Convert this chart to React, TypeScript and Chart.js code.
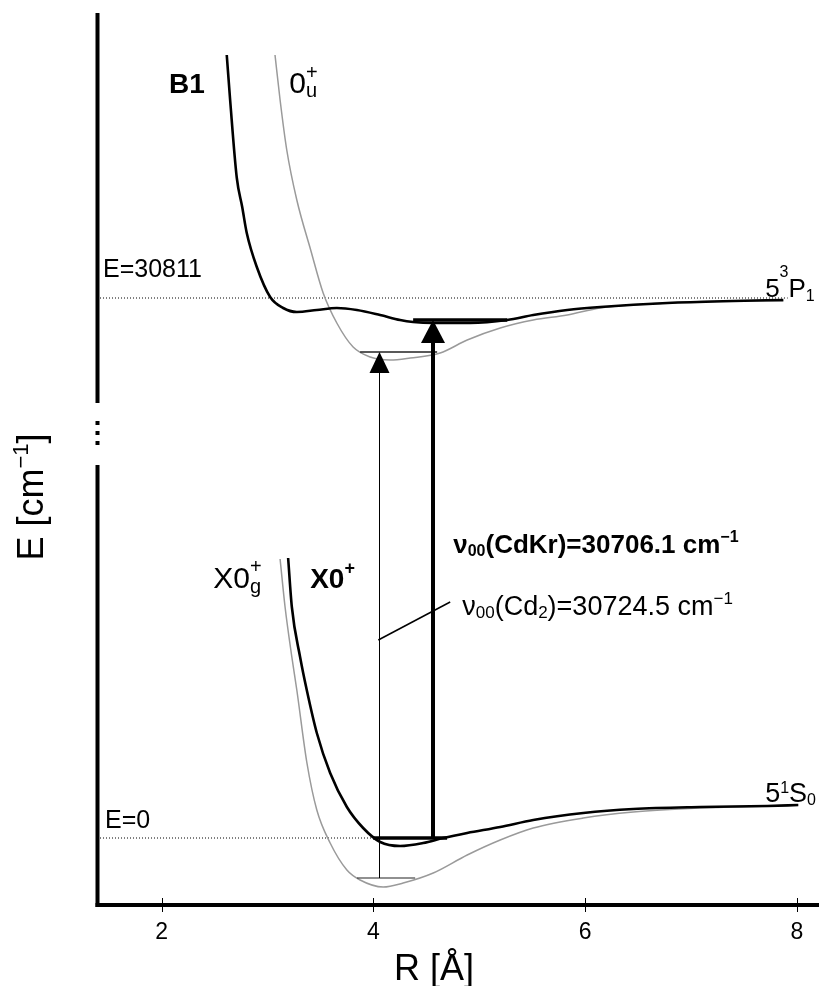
import React, { useEffect, useRef } from "react";
import { Chart, registerables } from "chart.js";

Chart.register(...registerables);

// ---- axes ----
const R_MIN = 1.388;
const R_MAX = 8.21;
const E_MIN = 0;
const E_MAX = 892; // display units (broken energy axis)
const xTicks = [2, 4, 6, 8];
const xTickLabels = ["2", "4", "6", "8"];
const yAxisUpper = [892, 502];
const yAxisDots = [482, 472, 462];
const yAxisLower = [440, 0];

// ---- potential curves (R in Å, E in display units) ----
const b1R = [2.614, 2.646, 2.709, 2.76, 2.803, 2.898, 3.024, 3.147, 3.276, 3.465, 3.654, 3.843, 4.063, 4.252, 4.375, 4.565, 4.914, 5.264, 5.51, 5.831, 6.144, 6.777, 7.401, 7.873];
const b1E = [850, 805, 727, 698, 672, 638, 608, 597, 593, 595, 597, 595, 590, 585, 583, 582, 582, 585, 590, 595, 598, 602, 604, 605];

const u0R = [3.07, 3.118, 3.181, 3.276, 3.407, 3.525, 3.654, 3.808, 3.969, 4.158, 4.347, 4.63, 4.886, 5.198, 5.51, 5.831, 6.144, 6.777, 7.401, 7.873];
const u0E = [850, 805, 755, 705, 655, 612, 582, 558, 548, 545, 547, 552, 565, 577, 585, 590, 597, 602, 604, 604];

const x0R = [3.194, 3.229, 3.307, 3.37, 3.465, 3.591, 3.749, 3.903, 4.064, 4.252, 4.47, 4.659, 4.886, 5.198, 5.51, 5.983, 6.455, 7.088, 7.721, 8.014];
const x0E = [347, 298, 248, 215, 172, 132, 98, 77, 63, 59, 62, 67, 72, 78, 85, 92, 96, 98, 99, 100];

const x0gR = [3.118, 3.165, 3.229, 3.276, 3.37, 3.465, 3.591, 3.749, 3.874, 4.092, 4.281, 4.565, 4.886, 5.198, 5.51, 5.983, 6.455, 7.088, 7.721, 8.014];
const x0gE = [346, 298, 248, 215, 143, 95, 62, 35, 25, 18, 22, 32, 50, 65, 77, 87, 93, 97, 99, 100];

// ---- vibrational v=0 levels ----
const b1LevelR = [4.375, 5.264];
const b1LevelE = 585;
const u0LevelR = [3.874, 4.602];
const u0LevelE = 553;
const x0LevelR = [3.997, 4.696];
const x0LevelE = 67;
const x0gLevelR = [3.845, 4.394];
const x0gLevelE = 27;

// ---- reference energies (dotted) ----
const upperRefR = [R_MIN, 7.914];
const upperRefE = 607;
const lowerRefR = [R_MIN, 3.997];
const lowerRefE = 67;

// ---- transitions ----
const cd2ArrowR = 4.054;
const cdkrArrowR = 4.565;
const leaderR = [4.046, 4.725];
const leaderE = [265, 303];

const FONT = '"Liberation Sans", Arial, Helvetica, sans-serif';
const font = (bold: boolean, size: number) => `${bold ? "bold " : ""}${size}px ${FONT}`;

type Piece = { t: string; sub?: string; sup?: string };
type RichOpts = { size: number; small: number; bold: boolean; supDy: number; subDy: number; align?: "left" | "center" };

function richWidth(ctx: CanvasRenderingContext2D, pieces: Piece[], o: RichOpts) {
  let w = 0;
  for (const p of pieces) {
    ctx.font = font(o.bold, o.size);
    w += ctx.measureText(p.t).width;
    ctx.font = font(o.bold, o.small);
    let s = 0;
    if (p.sup) s = Math.max(s, ctx.measureText(p.sup).width);
    if (p.sub) s = Math.max(s, ctx.measureText(p.sub).width);
    w += s;
  }
  return w;
}

function drawRich(ctx: CanvasRenderingContext2D, pieces: Piece[], x: number, y: number, o: RichOpts) {
  ctx.textAlign = "left";
  ctx.textBaseline = "alphabetic";
  ctx.fillStyle = "#000";
  let cx = x;
  if (o.align === "center") cx = x - richWidth(ctx, pieces, o) / 2;
  for (const p of pieces) {
    ctx.font = font(o.bold, o.size);
    ctx.fillText(p.t, cx, y);
    cx += ctx.measureText(p.t).width;
    if (p.sub || p.sup) {
      ctx.font = font(o.bold, o.small);
      let w = 0;
      if (p.sup) {
        ctx.fillText(p.sup, cx, y - o.supDy);
        w = Math.max(w, ctx.measureText(p.sup).width);
      }
      if (p.sub) {
        ctx.fillText(p.sub, cx, y + o.subDy);
        w = Math.max(w, ctx.measureText(p.sub).width);
      }
      cx += w;
    }
  }
}

const pts = (rs: number[], es: number[]) => rs.map((r, i) => ({ x: r, y: es[i] }));
const hline = (rs: number[], e: number) => rs.map((r) => ({ x: r, y: e }));

const decorPlugin = {
  id: "decor",
  afterDatasetsDraw(chart: any) {
    const ctx: CanvasRenderingContext2D = chart.ctx;
    const xs = chart.scales.x;
    const ys = chart.scales.y;
    const X = (v: number) => xs.getPixelForValue(v);
    const Y = (v: number) => ys.getPixelForValue(v);
    ctx.save();

    // left (broken) axis
    const ax = X(R_MIN) + 0.5;
    ctx.strokeStyle = "#000";
    ctx.lineWidth = 4;
    ctx.lineCap = "butt";
    ctx.beginPath();
    ctx.moveTo(ax, Y(yAxisUpper[0]));
    ctx.lineTo(ax, Y(yAxisUpper[1]));
    ctx.moveTo(ax, Y(yAxisLower[0]));
    ctx.lineTo(ax, Y(yAxisLower[1]) + 2);
    ctx.stroke();
    ctx.fillStyle = "#000";
    for (const d of yAxisDots) ctx.fillRect(ax - 2, Y(d) - 2, 4, 4);

    // bottom axis
    const by = Y(0);
    ctx.beginPath();
    ctx.moveTo(ax - 2, by);
    ctx.lineTo(X(R_MAX), by);
    ctx.stroke();
    ctx.lineWidth = 1;
    ctx.beginPath();
    for (const t of xTicks) {
      const tx = Math.round(X(t)) + 0.5;
      ctx.moveTo(tx, by - 7);
      ctx.lineTo(tx, by + 7);
    }
    ctx.stroke();
    ctx.font = font(false, 23);
    ctx.textAlign = "center";
    ctx.textBaseline = "alphabetic";
    xTicks.forEach((t, i) => ctx.fillText(xTickLabels[i], X(t), by + 34));

    // axis titles
    drawRich(ctx, [{ t: "R [Å]" }], X(4.573), by + 75, { size: 36, small: 22, bold: false, supDy: 0, subDy: 0, align: "center" });
    ctx.save();
    ctx.translate(43, Y(408));
    ctx.rotate(-Math.PI / 2);
    drawRich(ctx, [{ t: "E [cm", sup: "−1" }, { t: "]" }], 0, 0, { size: 36, small: 22, bold: false, supDy: 15, subDy: 0, align: "center" });
    ctx.restore();

    // arrows
    const arrow = (r: number, e0: number, e1: number, lw: number, hw: number, hh: number) => {
      const x = Math.round(X(r)) + (lw % 2 ? 0.5 : 0);
      const y0 = Y(e0);
      const y1 = Y(e1);
      ctx.strokeStyle = "#000";
      ctx.lineWidth = lw;
      ctx.beginPath();
      ctx.moveTo(x, y0);
      ctx.lineTo(x, y1 + hh - 1);
      ctx.stroke();
      ctx.beginPath();
      ctx.moveTo(x, y1);
      ctx.lineTo(x - hw / 2, y1 + hh);
      ctx.lineTo(x + hw / 2, y1 + hh);
      ctx.closePath();
      ctx.fill();
    };
    arrow(cd2ArrowR, x0gLevelE, u0LevelE, 1, 20, 21);
    arrow(cdkrArrowR, x0LevelE, b1LevelE, 4, 24, 23);

    // labels
    drawRich(ctx, [{ t: "E=30811" }], X(1.445), Y(628), { size: 25, small: 16, bold: false, supDy: 0, subDy: 0 });
    drawRich(ctx, [{ t: "E=0" }], X(1.464), Y(77), { size: 25, small: 16, bold: false, supDy: 0, subDy: 0 });
    drawRich(ctx, [{ t: "B1" }], X(2.069), Y(812), { size: 28, small: 18, bold: true, supDy: 0, subDy: 0 });
    drawRich(ctx, [{ t: "0", sup: "+", sub: "u" }], X(3.204), Y(812), { size: 30, small: 20, bold: false, supDy: 14, subDy: 4 });
    drawRich(ctx, [{ t: "X0", sup: "+", sub: "g" }], X(2.486), Y(317), { size: 30, small: 20, bold: false, supDy: 15, subDy: 5 });
    drawRich(ctx, [{ t: "X0", sup: "+" }], X(3.402), Y(317), { size: 28, small: 18, bold: true, supDy: 14, subDy: 0 });
    drawRich(ctx, [{ t: "ν", sub: "00" }, { t: "(CdKr)=30706.1 cm", sup: "−1" }], X(4.754), Y(352), { size: 26, small: 16, bold: true, supDy: 11, subDy: 3 });
    drawRich(ctx, [{ t: "ν", sub: "00" }, { t: "(Cd", sub: "2" }, { t: ")=30724.5 cm", sup: "−1" }], X(4.839), Y(290), { size: 27, small: 17, bold: false, supDy: 11, subDy: 3 });
    drawRich(ctx, [{ t: "5", sup: "3" }, { t: "P", sub: "1" }], X(7.701), Y(608), { size: 26, small: 16, bold: false, supDy: 20, subDy: 4 });
    drawRich(ctx, [{ t: "5", sup: "1" }, { t: "S", sub: "0" }], X(7.701), Y(103), { size: 27, small: 16, bold: false, supDy: 9, subDy: 3 });

    ctx.restore();
  },
};

export default function App() {
  const ref = useRef<HTMLCanvasElement | null>(null);
  useEffect(() => {
    if (!ref.current) return;
    const black = "#000000";
    const gray = "#9a9a9a";
    const line = (data: any[], color: string, width: number, extra: any = {}) => ({
      data,
      showLine: true,
      borderColor: color,
      backgroundColor: color,
      borderWidth: width,
      pointRadius: 0,
      fill: false,
      clip: false,
      ...extra,
    });
    const chart = new Chart(ref.current, {
      type: "scatter",
      data: {
        datasets: [
          line(hline(b1LevelR, b1LevelE), black, 3.5),
          line(hline(x0LevelR, x0LevelE), black, 3.5),
          line(hline(u0LevelR, u0LevelE), "#222", 1.5),
          line(hline(x0gLevelR, x0gLevelE), "#222", 1.2),
          line(pts(leaderR, leaderE), black, 1.5),
          line(pts(b1R, b1E), black, 2.6, { cubicInterpolationMode: "monotone" }),
          line(pts(x0R, x0E), black, 2.6, { cubicInterpolationMode: "monotone" }),
          line(pts(u0R, u0E), gray, 1.5, { cubicInterpolationMode: "monotone" }),
          line(pts(x0gR, x0gE), gray, 1.5, { cubicInterpolationMode: "monotone" }),
          line(hline(upperRefR, upperRefE), black, 1, { borderDash: [1, 2] }),
          line(hline(lowerRefR, lowerRefE), black, 1, { borderDash: [1, 2] }),
        ],
      },
      options: {
        animation: false,
        responsive: false,
        devicePixelRatio: 1,
        events: [],
        layout: { padding: { left: 97, right: 0, top: 13, bottom: 81 } },
        plugins: { legend: { display: false }, tooltip: { enabled: false } },
        scales: {
          x: { type: "linear", min: R_MIN, max: R_MAX, display: false },
          y: { type: "linear", min: E_MIN, max: E_MAX, display: false },
        },
      },
      plugins: [decorPlugin],
    } as any);
    return () => chart.destroy();
  }, []);
  return (
    <div style={{ position: "fixed", left: 0, top: 0, width: 819, height: 986, background: "#fff" }}>
      <canvas ref={ref} width={819} height={986} style={{ display: "block" }} />
    </div>
  );
}
